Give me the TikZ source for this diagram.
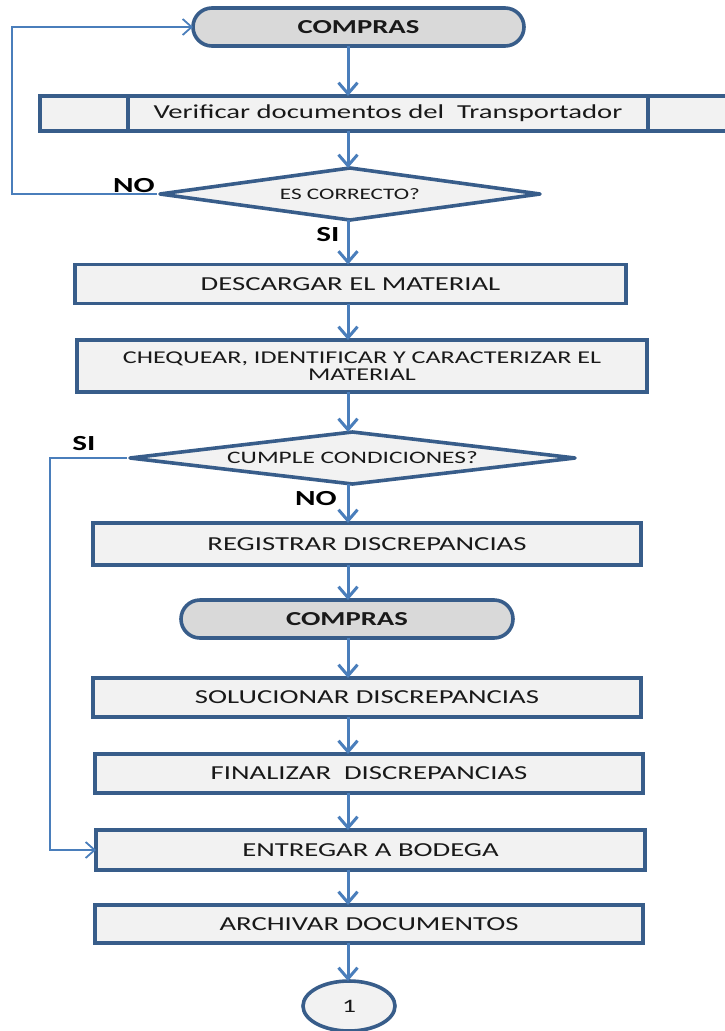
\documentclass[tikz,border=0pt]{standalone}
\usepackage{fontspec}
\setmainfont{Carlito}[FakeStretch=1.45]
\usetikzlibrary{shapes.geometric,shapes.misc,arrows.meta}

\definecolor{edgeblue}{HTML}{385D8A}
\definecolor{flowblue}{HTML}{4A7EBB}
\definecolor{boxfill}{HTML}{F2F2F2}
\definecolor{termfill}{HTML}{D9D9D9}

\tikzset{
  base/.style={draw=edgeblue, line width=3.6pt, text=black!90, inner sep=0pt, outer sep=0pt},
  procbox/.style={base, rectangle, fill=boxfill, font=\fontsize{19.8}{22}\selectfont, align=center},
  termbox/.style={base, rounded rectangle, fill=termfill, font=\bfseries\fontsize{19.8}{22}\selectfont},
  decision/.style={base, diamond, line join=round, fill=boxfill, font=\fontsize{16}{19}\selectfont},
  connector/.style={base, ellipse, fill=boxfill, font=\fontsize{19}{22}\selectfont},
  flow/.style={draw=flowblue, line width=3pt, -{Straight Barb[length=11pt,width=19pt]}},
  loopline/.style={draw=flowblue, line width=1.8pt, -{Straight Barb[length=9pt,width=16pt]}},
  answer/.style={font=\bfseries\fontsize{21.5}{24}\selectfont, inner sep=0pt},
}

\begin{document}
\begin{tikzpicture}[x=1pt, y=-1pt]
  \clip (0,0) rectangle (725,1031);
  \fill[white] (0,0) rectangle (725,1031);

  % main vertical axis of the flow
  \coordinate (axis) at (348,0);

  % nodes
  \node[termbox, minimum width=331pt, minimum height=38pt] (t1) at (358.5,27) {COMPRAS};
  \node[procbox, minimum width=696pt, minimum height=35pt] (v) at (388,113.5) {Verificar documentos del\ \ Transportador};
  \draw[edgeblue, line width=3.6pt] ([xshift=88pt]v.north west) -- ([xshift=88pt]v.south west);
  \draw[edgeblue, line width=3.6pt] ([xshift=-88pt]v.north east) -- ([xshift=-88pt]v.south east);
  \node[decision, aspect=7.3, minimum width=380pt, minimum height=52pt] (d1) at (350,194) {ES CORRECTO?};
  \node[procbox, minimum width=551pt, minimum height=39pt] (p1) at (350.5,284) {DESCARGAR EL MATERIAL};
  \node[procbox, minimum width=570pt, minimum height=52pt, font=\fontsize{18}{17}\selectfont] (p2) at (362,366) {CHEQUEAR, IDENTIFICAR Y CARACTERIZAR EL\\MATERIAL};
  \node[decision, aspect=8.5, minimum width=445pt, minimum height=52pt, font=\fontsize{17.5}{20}\selectfont] (d2) at (352.5,458) {CUMPLE CONDICIONES?};
  \node[procbox, minimum width=548pt, minimum height=42pt] (p3) at (367,544) {REGISTRAR DISCREPANCIAS};
  \node[termbox, minimum width=332pt, minimum height=38pt] (t2) at (347,619) {COMPRAS};
  \node[procbox, minimum width=548pt, minimum height=39pt] (p4) at (367,697.5) {SOLUCIONAR DISCREPANCIAS};
  \node[procbox, minimum width=548pt, minimum height=39pt] (p5) at (369,773.5) {FINALIZAR\ \ DISCREPANCIAS};
  \node[procbox, minimum width=549pt, minimum height=40pt] (p6) at (370.5,850) {ENTREGAR A BODEGA};
  \node[procbox, minimum width=548pt, minimum height=38pt] (p7) at (369,924) {ARCHIVAR DOCUMENTOS};
  \node[connector, minimum width=92pt, minimum height=50pt] (c1) at (349,1006) {1};

  % answer labels
  \node[answer] (no1) at (134,186) {NO};
  \node[answer] (si1) at (328,235) {SI};
  \node[answer] (si2) at (84,444) {SI};
  \node[answer] (no2) at (316,499) {NO};

  % main flow
  \draw[flow] (t1.south -| axis) -- (v.north -| axis);
  \draw[flow] (v.south -| axis) -- (d1.north -| axis);
  \draw[flow] (d1.south -| axis) -- (p1.north -| axis);
  \draw[flow] (p1.south -| axis) -- (p2.north -| axis);
  \draw[flow] (p2.south -| axis) -- (d2.north -| axis);
  \draw[flow] (d2.south -| axis) -- (p3.north -| axis);
  \draw[flow] (p3.south -| axis) -- (t2.north -| axis);
  \draw[flow] (t2.south -| axis) -- (p4.north -| axis);
  \draw[flow] (p4.south -| axis) -- (p5.north -| axis);
  \draw[flow] (p5.south -| axis) -- (p6.north -| axis);
  \draw[flow] (p6.south -| axis) -- (p7.north -| axis);
  \draw[flow] (p7.south -| axis) -- (c1.north -| axis);

  % return paths
  \coordinate (loopA) at (12,0);
  \coordinate (loopB) at (50,0);
  \draw[loopline] ([xshift=-3pt]d1.west) -- (d1.west -| loopA) -- (t1.west -| loopA) -- (t1.west);
  \draw[loopline] ([xshift=-3pt]d2.west) -- (d2.west -| loopB) -- (p6.west -| loopB) -- (p6.west);
\end{tikzpicture}
\end{document}
